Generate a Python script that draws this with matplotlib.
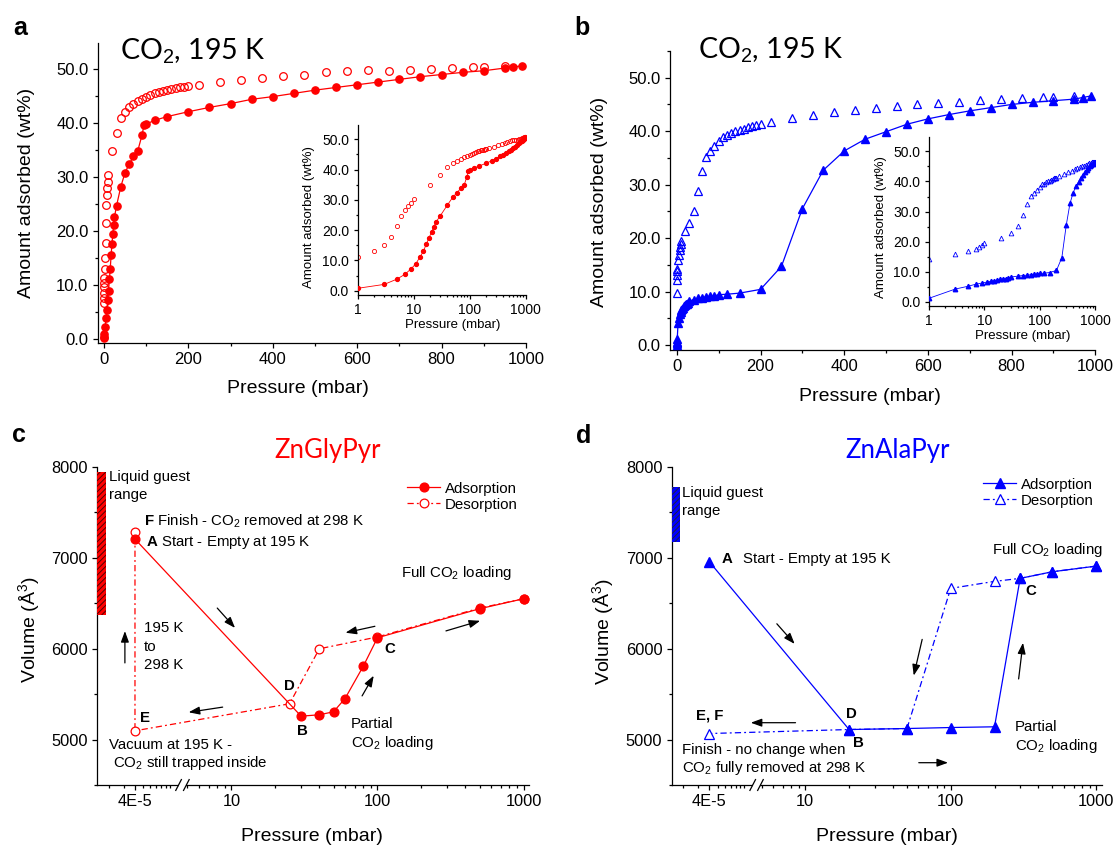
import numpy as np
import matplotlib
matplotlib.use("Agg")
import matplotlib.pyplot as plt
from matplotlib.patches import Rectangle
from matplotlib.transforms import blended_transform_factory
from matplotlib.ticker import MultipleLocator, FormatStrFormatter, LogLocator, NullFormatter

plt.rcParams['font.family'] = ['Liberation Sans', 'DejaVu Sans']
plt.rcParams['mathtext.fontset'] = 'custom'
plt.rcParams['mathtext.rm'] = 'Liberation Sans'
plt.rcParams['mathtext.it'] = 'Liberation Sans:italic'
plt.rcParams['mathtext.bf'] = 'Liberation Sans:bold'
plt.rcParams['hatch.linewidth'] = 0.7
plt.rcParams['axes.linewidth'] = 0.9

RED = '#ff0000'
BLUE = '#0000ff'
W, H = 1114, 846

# ---------------- Panel a data (ZnGlyPyr isotherm) ----------------
a_ads_p = [0.05, 0.3, 1, 3, 5, 7, 9, 11, 13, 15, 17, 19, 21, 23, 25, 30, 40, 50, 60, 70,
           80, 90, 95, 100, 120, 150, 200, 250, 300, 350, 400, 450, 500, 550, 600, 650,
           700, 750, 800, 850, 900, 950, 970, 990]
a_ads_w = [0.1, 0.4, 0.8, 2.1, 3.8, 5.4, 7.2, 8.9, 11.1, 13.0, 15.5, 17.5, 19.4, 21.0,
           22.6, 24.7, 28.2, 30.8, 32.4, 33.8, 34.8, 37.7, 39.6, 39.8, 40.5, 41.2, 42.1,
           42.9, 43.6, 44.4, 44.9, 45.5, 46.1, 46.6, 47.1, 47.6, 48.1, 48.6, 49.0, 49.4,
           49.7, 50.2, 50.4, 50.6]
a_des_p = [0.1, 0.2, 0.4, 0.6, 0.8, 1, 2, 3, 4, 5, 6, 7, 8, 9, 10, 20, 30, 40, 50, 60, 70,
           80, 90, 100, 110, 120, 130, 140, 150, 160, 170, 180, 190, 200, 225, 275, 325,
           375, 425, 475, 525, 575, 625, 675, 725, 775, 825, 875, 900, 950]
a_des_w = [6.6, 7.6, 8.5, 9.6, 10.3, 11.2, 13.0, 15.0, 17.8, 21.5, 24.8, 26.7, 27.9, 29.1,
           30.4, 34.9, 38.2, 40.9, 42.1, 42.9, 43.6, 44.1, 44.5, 44.9, 45.2, 45.5, 45.7,
           46.0, 46.2, 46.3, 46.5, 46.6, 46.7, 46.8, 47.0, 47.6, 48.0, 48.3, 48.7, 49.0,
           49.4, 49.6, 49.8, 49.6, 49.8, 50.0, 50.2, 50.4, 50.4, 50.6]

# ---------------- Panel b data (ZnAlaPyr isotherm) ----------------
b_ads_p = [0.01, 0.05, 0.2, 1, 3, 5, 7, 9, 11, 13, 15, 17, 19, 22, 25, 27, 30, 40, 50, 60,
           70, 80, 90, 100, 120, 150, 200, 250, 300, 350, 400, 450, 500, 550, 600, 650,
           700, 750, 800, 850, 900, 950, 970, 990]
b_ads_w = [0.0, 0.3, 0.6, 1.1, 4.2, 5.1, 5.8, 6.2, 6.5, 6.75, 7.0, 7.2, 7.4, 7.6, 7.7,
           7.85, 8.2, 8.5, 8.7, 8.85, 9.0, 9.1, 9.2, 9.4, 9.5, 9.7, 10.4, 14.7, 25.5, 32.7,
           36.3, 38.5, 39.9, 41.3, 42.3, 43.1, 43.8, 44.4, 45.0, 45.4, 45.7, 46.0, 46.3, 46.6]
b_des_p = [0.02, 0.1, 0.3, 0.6, 1, 3, 5, 7, 8, 9, 10, 20, 30, 40, 50, 60, 70, 80, 90, 100,
           110, 120, 130, 140, 150, 160, 170, 180, 190, 200, 225, 275, 325, 375, 425, 475,
           525, 575, 625, 675, 725, 775, 825, 875, 900, 950]
b_des_w = [9.7, 12.2, 13.1, 13.8, 14.2, 15.9, 16.9, 17.7, 18.3, 18.9, 19.5, 21.3, 22.9,
           25.1, 28.9, 32.5, 35.2, 36.3, 37.3, 38.1, 39.0, 39.3, 39.7, 40.0, 40.3, 40.5,
           40.8, 41.0, 41.1, 41.3, 41.7, 42.5, 43.0, 43.5, 44.0, 44.4, 44.7, 45.0, 45.3,
           45.5, 45.8, 46.0, 46.3, 46.4, 46.4, 46.6]

# ---------------- Panel c / d data (cell volume) ----------------
c_ads_p = [4e-5, 30, 40, 50, 60, 80, 100, 500, 1000]
c_ads_v = [7204, 5257, 5272, 5305, 5451, 5807, 6119, 6438, 6548]
c_des_p = [1000, 500, 100, 40, 25, 4e-5, 4e-5]
c_des_v = [6548, 6445, 6128, 5998, 5393, 5096, 7278]

d_ads_p = [4e-5, 20, 50, 100, 200, 300, 500, 1000]
d_ads_v = [6955, 5110, 5121, 5132, 5140, 6772, 6845, 6907]
d_des_p = [1000, 500, 300, 200, 100, 50, 20, 4e-5]
d_des_v = [6907, 6845, 6772, 6739, 6662, 5121, 5110, 5066]

liquid_c = (6369, 7945)
liquid_d = (7175, 7780)

vol_ticks = [5000, 6000, 7000, 8000]
press_ticks = [4e-5, 10, 100, 1000]
press_labels = ['4E-5', '10', '100', '1000']
press_minor = [2e-5, 3e-5, 5e-5, 6e-5, 7e-5, 8e-5, 9e-5, 1e-4,
               5, 6, 7, 8, 9, 20, 30, 40, 50, 60, 70, 80, 90,
               200, 300, 400, 500, 600, 700, 800, 900]

# ---------------- broken log scale ----------------
L4 = np.log10(4e-5)
U4 = 0.34
S = 0.6
UB = 0.665
X1 = 10 ** (L4 + (UB - U4) / S)
X2 = 10 ** UB
UMIN, UMAX = 0.08, 3.04
XMIN = 10 ** (L4 + (UMIN - U4) / S)
XMAX = 10 ** UMAX


def fwd(x):
    x = np.asarray(x, dtype=float)
    lx = np.log10(np.clip(x, 1e-300, None))
    left = U4 + S * (lx - L4)
    mid = UB + 1e-9 * (lx - np.log10(X1))
    return np.where(x <= X1, left, np.where(x >= X2, lx, mid))


def inv(u):
    u = np.asarray(u, dtype=float)
    return np.where(u < UB, 10 ** ((u - U4) / S + L4), 10 ** u)


def fp(x, y):
    return (x / W, 1 - y / H)


def ax_rect(l, t, r, b):
    return [l / W, 1 - b / H, (r - l) / W, (b - t) / H]


def style(ax, labelsize, mlen=3.6, nlen=2.1):
    ax.spines['top'].set_visible(False)
    ax.spines['right'].set_visible(False)
    ax.tick_params(which='both', direction='out', width=0.9)
    ax.tick_params(which='major', length=mlen, labelsize=labelsize, pad=3)
    ax.tick_params(which='minor', length=nlen)


fig = plt.figure(figsize=(W / 100, H / 100), dpi=100)

# ======================= Panel a =======================
axa = fig.add_axes(ax_rect(97.6, 42.7, 526, 343.3))
axa.plot(a_des_p, a_des_w, ls='none', marker='o', mfc='none', mec=RED, mew=0.9, ms=5.5, zorder=2)
axa.plot(a_ads_p, a_ads_w, '-o', color=RED, lw=0.9, ms=5.2, zorder=3)
axa.set_xlim(-15, 1000)
axa.set_ylim(-0.85, 54.9)
axa.xaxis.set_major_locator(MultipleLocator(200))
axa.xaxis.set_minor_locator(MultipleLocator(100))
axa.yaxis.set_major_locator(MultipleLocator(10))
axa.yaxis.set_minor_locator(MultipleLocator(5))
axa.yaxis.set_major_formatter(FormatStrFormatter('%.1f'))
style(axa, 12)

axai = fig.add_axes(ax_rect(357.5, 125, 525.5, 295))
axai.plot(a_des_p, a_des_w, ls='none', marker='o', mfc='none', mec=RED, mew=0.6, ms=3.0, zorder=2)
axai.plot(a_ads_p, a_ads_w, '-o', color=RED, lw=0.6, ms=2.8, zorder=3)
axai.set_xscale('log')
axai.set_xlim(1, 1000)
axai.set_ylim(-1.4, 54.7)
axai.set_xticks([1, 10, 100, 1000], labels=['1', '10', '100', '1000'])
axai.xaxis.set_minor_locator(LogLocator(subs=np.arange(2, 10)))
axai.xaxis.set_minor_formatter(NullFormatter())
axai.yaxis.set_major_locator(MultipleLocator(10))
axai.yaxis.set_minor_locator(MultipleLocator(5))
axai.yaxis.set_major_formatter(FormatStrFormatter('%.1f'))
style(axai, 10, mlen=3, nlen=1.7)

# ======================= Panel b =======================
axb = fig.add_axes(ax_rect(669.7, 51, 1095.3, 350))
axb.plot(b_des_p, b_des_w, ls='none', marker='^', mfc='none', mec=BLUE, mew=0.9, ms=6, zorder=2)
axb.plot(b_ads_p, b_ads_w, '-^', color=BLUE, lw=0.9, ms=5.8, zorder=3)
axb.set_xlim(-17, 1000)
axb.set_ylim(-0.94, 55.0)
axb.xaxis.set_major_locator(MultipleLocator(200))
axb.xaxis.set_minor_locator(MultipleLocator(100))
axb.yaxis.set_major_locator(MultipleLocator(10))
axb.yaxis.set_minor_locator(MultipleLocator(5))
axb.yaxis.set_major_formatter(FormatStrFormatter('%.1f'))
style(axb, 12)

axbi = fig.add_axes(ax_rect(928.7, 136.7, 1095.3, 306))
axbi.plot(b_des_p, b_des_w, ls='none', marker='^', mfc='none', mec=BLUE, mew=0.6, ms=3.4, zorder=2)
axbi.plot(b_ads_p, b_ads_w, '-^', color=BLUE, lw=0.6, ms=3.2, zorder=3)
axbi.set_xscale('log')
axbi.set_xlim(1, 1000)
axbi.set_ylim(-1.43, 54.9)
axbi.set_xticks([1, 10, 100, 1000], labels=['1', '10', '100', '1000'])
axbi.xaxis.set_minor_locator(LogLocator(subs=np.arange(2, 10)))
axbi.xaxis.set_minor_formatter(NullFormatter())
axbi.yaxis.set_major_locator(MultipleLocator(10))
axbi.yaxis.set_minor_locator(MultipleLocator(5))
axbi.yaxis.set_major_formatter(FormatStrFormatter('%.1f'))
style(axbi, 10, mlen=3, nlen=1.7)


# ======================= Panels c, d =======================
def volume_axes(rect, color, marker, ms, ads_p, ads_v, des_p, des_v, liquid, barw):
    ax = fig.add_axes(rect)
    ax.set_xscale('function', functions=(fwd, inv))
    ld = ax.plot(des_p, des_v, ls=(0, (5, 2.5, 1.5, 2.5)), lw=0.9, color=color, marker=marker,
                 mfc='white', mec=color, mew=0.9, ms=ms, zorder=2)[0]
    la = ax.plot(ads_p, ads_v, '-', lw=0.9, color=color, marker=marker, ms=ms, zorder=3)[0]
    ax.set_xlim(XMIN, XMAX)
    ax.set_ylim(4500, 8000)
    ax.set_xticks(press_ticks, labels=press_labels)
    ax.set_xticks(press_minor, minor=True)
    ax.set_yticks(vol_ticks)
    ax.yaxis.set_minor_locator(MultipleLocator(500))
    style(ax, 11.8)
    tr = blended_transform_factory(ax.transAxes, ax.transData)
    ax.add_patch(Rectangle((0, liquid[0]), barw, liquid[1] - liquid[0], transform=tr,
                           facecolor=color, edgecolor='#202040' if color == BLUE else '#500000',
                           hatch='//////', lw=0, clip_on=False, zorder=4))
    # axis break
    fb = (UB - UMIN) / (UMAX - UMIN)
    ax.add_patch(Rectangle((fb - 0.009, -0.012), 0.018, 0.024, transform=ax.transAxes,
                           facecolor='white', edgecolor='none', clip_on=False, zorder=5))
    for dx in (-0.009, 0.009):
        ax.plot([fb + dx - 0.0065, fb + dx + 0.0065], [-0.017, 0.017], transform=ax.transAxes,
                color='black', lw=0.9, clip_on=False, zorder=6)
    return ax, la, ld


axc, lca, lcd = volume_axes(ax_rect(97, 466.7, 529.4, 785), RED, 'o', 6.3,
                            c_ads_p, c_ads_v, c_des_p, c_des_v, liquid_c, 0.020)
axd, lda, ldd = volume_axes(ax_rect(671.5, 466.7, 1102, 785), BLUE, '^', 7.5,
                            d_ads_p, d_ads_v, d_des_p, d_des_v, liquid_d, 0.019)

leg_kw = dict(frameon=False, fontsize=10.8, handlelength=2.25, handletextpad=0.3,
              labelspacing=0.15, borderpad=0, borderaxespad=0, loc='upper left',
              bbox_transform=fig.transFigure)
axc.legend([lca, lcd], ['Adsorption', 'Desorption'], bbox_to_anchor=fp(406.7, 481.5), **leg_kw)
axd.legend([lda, ldd], ['Adsorption', 'Desorption'], bbox_to_anchor=fp(982.7, 477.5), **leg_kw)

# ======================= Labels =======================
LAB = 14
fig.text(*fp(27, 193.3), 'Amount adsorbed (wt%)', rotation=90, ha='center', va='center', fontsize=LAB)
fig.text(*fp(599.8, 201.7), 'Amount adsorbed (wt%)', rotation=90, ha='center', va='center', fontsize=LAB)
fig.text(*fp(297.6, 388.3), 'Pressure (mbar)', ha='center', va='center', fontsize=LAB)
fig.text(*fp(870, 396.7), 'Pressure (mbar)', ha='center', va='center', fontsize=LAB)
fig.text(*fp(29.4, 630), r'Volume (Å$^3$)', rotation=90, ha='center', va='center', fontsize=LAB)
fig.text(*fp(603.4, 631.7), r'Volume (Å$^3$)', rotation=90, ha='center', va='center', fontsize=LAB)
fig.text(*fp(312, 836.7), 'Pressure (mbar)', ha='center', va='center', fontsize=LAB)
fig.text(*fp(886.7, 836.7), 'Pressure (mbar)', ha='center', va='center', fontsize=LAB)

fig.text(*fp(308.6, 216.7), 'Amount adsorbed (wt%)', rotation=90, ha='center', va='center', fontsize=9.5)
fig.text(*fp(453, 325), 'Pressure (mbar)', ha='center', va='center', fontsize=9.5)
fig.text(*fp(880.8, 227.5), 'Amount adsorbed (wt%)', rotation=90, ha='center', va='center', fontsize=9.5)
fig.text(*fp(1022.8, 336), 'Pressure (mbar)', ha='center', va='center', fontsize=9.5)

# panel letters
for (x, y, s) in [(19.7, 35, 'a'), (582, 35, 'b'), (18.8, 441.7, 'c'), (584, 443.3, 'd')]:
    fig.text(*fp(x, y), s, ha='center', va='baseline', fontsize=18, fontweight='bold')

# titles
fig.text(*fp(120, 60), 'CO$_2$, 195 K', family='Lato', fontsize=20.5, ha='left', va='baseline')
fig.text(*fp(698.4, 58.3), 'CO$_2$, 195 K', family='Lato', fontsize=20.5, ha='left', va='baseline')
fig.text(*fp(327.5, 450), 'ZnGlyPyr', family='Lato', fontsize=18.5, color=RED, ha='center', va='center')
fig.text(*fp(897.5, 450), 'ZnAlaPyr', family='Lato', fontsize=18.5, color=BLUE, ha='center', va='center')

TS = 10.8


def t(x, y, s, bold=False, ha='left'):
    fig.text(*fp(x, y), s, fontsize=TS, ha=ha, va='center',
             fontweight='bold' if bold else 'normal')


# panel c annotations
t(108.8, 477, 'Liquid guest')
t(108.8, 494.7, 'range')
t(144.3, 521.5, r'$\mathbf{F}$ Finish - CO$_2$ removed at 298 K')
t(146, 542, r'$\mathbf{A}$ Start - Empty at 195 K')
t(143.6, 627.8, '195 K')
t(143.6, 647, 'to')
t(143.6, 665.3, '298 K')
t(289, 685.7, 'D', bold=True, ha='center')
t(144.8, 717.7, 'E', bold=True, ha='center')
t(302.2, 730.7, 'B', bold=True, ha='center')
t(389.4, 649, 'C', bold=True, ha='center')
t(108.8, 745, 'Vacuum at 195 K -')
t(113.1, 763.3, 'CO$_2$ still trapped inside')
t(351, 724, 'Partial')
t(351, 742.7, 'CO$_2$ loading')
t(400.7, 573.3, 'Full CO$_2$ loading')

# panel d annotations
t(681.7, 493, 'Liquid guest')
t(681.7, 510.7, 'range')
t(721.7, 559, 'A', bold=True)
t(742.7, 559, 'Start - Empty at 195 K')
t(992.3, 550, 'Full CO$_2$ loading')
t(1030.7, 590.7, 'C', bold=True, ha='center')
t(851, 714, 'D', bold=True, ha='center')
t(858.2, 743.3, 'B', bold=True, ha='center')
t(696, 715, 'E, F', bold=True)
t(682.3, 750, 'Finish - no change when')
t(682.3, 768.3, 'CO$_2$ fully removed at 298 K')
t(1014.7, 727.3, 'Partial')
t(1014.7, 746, 'CO$_2$ loading')

# arrows (start -> end, figure pixels from top-left)
arrows = [((215.4, 606), (236.9, 630)), ((377.6, 625.7), (342.8, 633.3)),
          ((443.3, 631.7), (482.8, 620)), ((124.9, 665.7), (124.9, 628.3)),
          ((225.4, 706.7), (185.9, 712.7)), ((360.7, 698.3), (375.1, 673.3)),
          ((775, 621.7), (796.5, 646)), ((922.8, 636.7), (913.1, 678.3)),
          ((1018.3, 681.7), (1023.3, 640)), ((798.3, 722.7), (748, 722.7)),
          ((916, 762.7), (950.8, 762.7))]
for s, e in arrows:
    fig.add_artist(matplotlib.patches.FancyArrowPatch(
        fp(*s), fp(*e), transform=fig.transFigure, arrowstyle='-|>,head_length=0.55,head_width=0.2',
        mutation_scale=12, color='black', lw=0.9))

fig.savefig('out.png', dpi=100)
